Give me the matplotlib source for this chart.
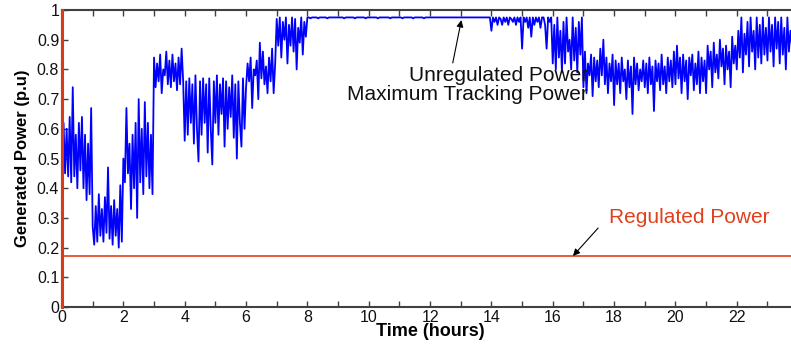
import numpy as np
import matplotlib
matplotlib.use("Agg")
import matplotlib.pyplot as plt

plt.rcParams['font.family'] = ['Liberation Sans', 'DejaVu Sans']

# unregulated power, 20 samples per hour (one row per hour)
unreg_rows = [
    [0.48, 0.62, 0.45, 0.60, 0.44, 0.64, 0.42, 0.74, 0.44, 0.58, 0.40, 0.62, 0.46, 0.64, 0.40, 0.58, 0.36, 0.55, 0.38, 0.67],
    [0.27, 0.21, 0.34, 0.22, 0.38, 0.24, 0.33, 0.22, 0.37, 0.25, 0.47, 0.23, 0.34, 0.21, 0.36, 0.24, 0.33, 0.20, 0.41, 0.22],
    [0.50, 0.42, 0.67, 0.45, 0.55, 0.33, 0.58, 0.40, 0.62, 0.30, 0.70, 0.42, 0.60, 0.38, 0.69, 0.44, 0.62, 0.40, 0.58, 0.38],
    [0.84, 0.74, 0.82, 0.76, 0.85, 0.72, 0.80, 0.78, 0.86, 0.75, 0.83, 0.74, 0.85, 0.76, 0.82, 0.73, 0.84, 0.75, 0.87, 0.76],
    [0.56, 0.76, 0.58, 0.77, 0.62, 0.75, 0.55, 0.78, 0.60, 0.49, 0.76, 0.58, 0.77, 0.62, 0.75, 0.52, 0.77, 0.60, 0.48, 0.76],
    [0.62, 0.78, 0.58, 0.75, 0.65, 0.77, 0.54, 0.76, 0.60, 0.74, 0.64, 0.78, 0.57, 0.75, 0.50, 0.76, 0.62, 0.54, 0.77, 0.60],
    [0.74, 0.82, 0.76, 0.84, 0.67, 0.80, 0.78, 0.83, 0.70, 0.89, 0.77, 0.86, 0.75, 0.81, 0.72, 0.84, 0.76, 0.87, 0.72, 0.82],
    [0.97, 0.88, 0.975, 0.84, 0.96, 0.90, 0.975, 0.82, 0.95, 0.88, 0.975, 0.86, 0.97, 0.80, 0.94, 0.89, 0.975, 0.85, 0.96, 0.91],
    [0.975, 0.975, 0.972, 0.975, 0.975, 0.975, 0.975, 0.972, 0.975, 0.975, 0.975, 0.975, 0.975, 0.972, 0.975, 0.975, 0.975, 0.975, 0.975, 0.975],
    [0.975, 0.975, 0.975, 0.975, 0.972, 0.975, 0.975, 0.975, 0.975, 0.975, 0.975, 0.972, 0.975, 0.975, 0.975, 0.975, 0.975, 0.975, 0.972, 0.975],
    [0.975, 0.975, 0.975, 0.975, 0.975, 0.975, 0.972, 0.975, 0.975, 0.975, 0.975, 0.975, 0.975, 0.975, 0.972, 0.975, 0.975, 0.975, 0.975, 0.975],
    [0.975, 0.975, 0.972, 0.975, 0.975, 0.975, 0.975, 0.975, 0.975, 0.972, 0.975, 0.975, 0.975, 0.975, 0.975, 0.975, 0.972, 0.975, 0.975, 0.975],
    [0.975, 0.975, 0.975, 0.975, 0.975, 0.975, 0.975, 0.975, 0.975, 0.975, 0.975, 0.975, 0.975, 0.975, 0.975, 0.975, 0.975, 0.975, 0.975, 0.975],
    [0.975, 0.975, 0.975, 0.975, 0.975, 0.975, 0.975, 0.975, 0.975, 0.975, 0.975, 0.975, 0.975, 0.975, 0.975, 0.975, 0.975, 0.975, 0.975, 0.975],
    [0.93, 0.975, 0.96, 0.975, 0.95, 0.975, 0.97, 0.95, 0.975, 0.96, 0.975, 0.95, 0.975, 0.97, 0.96, 0.975, 0.95, 0.975, 0.96, 0.975],
    [0.87, 0.975, 0.96, 0.975, 0.94, 0.975, 0.91, 0.975, 0.95, 0.975, 0.96, 0.975, 0.94, 0.975, 0.975, 0.95, 0.87, 0.975, 0.96, 0.975],
    [0.82, 0.95, 0.80, 0.975, 0.84, 0.93, 0.79, 0.96, 0.82, 0.975, 0.86, 0.90, 0.80, 0.975, 0.83, 0.94, 0.79, 0.96, 0.85, 0.975],
    [0.74, 0.86, 0.72, 0.82, 0.78, 0.85, 0.71, 0.84, 0.76, 0.83, 0.74, 0.87, 0.78, 0.90, 0.75, 0.84, 0.72, 0.82, 0.76, 0.85],
    [0.68, 0.83, 0.75, 0.82, 0.72, 0.84, 0.76, 0.80, 0.70, 0.83, 0.74, 0.81, 0.65, 0.84, 0.75, 0.82, 0.73, 0.80, 0.76, 0.83],
    [0.74, 0.82, 0.72, 0.84, 0.75, 0.81, 0.66, 0.83, 0.76, 0.82, 0.73, 0.85, 0.75, 0.81, 0.72, 0.84, 0.76, 0.83, 0.74, 0.86],
    [0.75, 0.88, 0.77, 0.84, 0.72, 0.85, 0.76, 0.83, 0.70, 0.84, 0.78, 0.85, 0.73, 0.82, 0.75, 0.86, 0.72, 0.84, 0.76, 0.83],
    [0.72, 0.88, 0.80, 0.86, 0.74, 0.89, 0.79, 0.85, 0.77, 0.90, 0.81, 0.87, 0.75, 0.88, 0.80, 0.86, 0.74, 0.91, 0.82, 0.88],
    [0.80, 0.93, 0.84, 0.975, 0.79, 0.92, 0.85, 0.96, 0.81, 0.975, 0.86, 0.93, 0.80, 0.975, 0.84, 0.95, 0.82, 0.975, 0.85, 0.94],
    [0.83, 0.975, 0.86, 0.95, 0.81, 0.975, 0.87, 0.96, 0.82, 0.975, 0.85, 0.94, 0.80, 0.975, 0.86, 0.93, 0.88],
]
samples_per_hour = 20

# regulated power: jumps from 0 to 1 at t=0, then settles at 0.172
reg_time = [0, 0, 0, 24]
reg_power = [0, 1, 0.172, 0.172]

x_ticks = [0, 2, 4, 6, 8, 10, 12, 14, 16, 18, 20, 22]
y_ticks = [0, 0.1, 0.2, 0.3, 0.4, 0.5, 0.6, 0.7, 0.8, 0.9, 1.0]
y_tick_labels = ['0', '0.1', '0.2', '0.3', '0.4', '0.5', '0.6', '0.7', '0.8', '0.9', '1']

unreg_power = np.concatenate([np.array(r) for r in unreg_rows])
unreg_time = np.arange(len(unreg_power)) / samples_per_hour

fig = plt.figure(figsize=(7.91, 3.45), dpi=100)
ax = fig.add_axes([0.0784, 0.110, 0.9306, 0.861])

ax.plot(unreg_time, unreg_power, color='#0000ff', lw=1.3)
ax.plot(reg_time, reg_power, color='#e0401c', lw=1.2, clip_on=False, zorder=3)
ax.plot([0, 0], [0, 1], color='#d83a1a', lw=2.2, clip_on=False, zorder=3)

ax.set_xlim(0, 24)
ax.set_ylim(0, 1)
ax.set_xticks(x_ticks)
ax.set_xticks(range(0, 24), minor=True)
ax.set_yticks(y_ticks)
ax.set_yticklabels(y_tick_labels)
ax.tick_params(which='both', direction='in', top=True, right=True, colors='#404040',
               labelcolor='#111111', labelsize=11.5, width=1, pad=2, length=4)
for s in ax.spines.values():
    s.set_color('#404040')
    s.set_linewidth(1.5)

ax.set_xlabel('Time (hours)', fontsize=13, fontweight='bold', labelpad=-1)
ax.set_ylabel('Generated Power (p.u)', fontsize=12, fontweight='bold', labelpad=5)

# annotations
ax.text(17.15, 0.748, 'Unregulated Power\nMaximum Tracking Power', ha='right', va='center',
        multialignment='right', fontsize=15, color='#111111', linespacing=1.0)
ax.annotate('', xy=(13.02, 0.966), xytext=(12.74, 0.822),
            arrowprops=dict(arrowstyle='-|>', color='black', lw=0.8, mutation_scale=10,
                            shrinkA=0, shrinkB=0))
ax.text(20.45, 0.30, 'Regulated Power', ha='center', va='center', fontsize=15,
        color='#e0401c')
ax.annotate('', xy=(16.66, 0.172), xytext=(17.48, 0.266),
            arrowprops=dict(arrowstyle='-|>', color='black', lw=0.8, mutation_scale=10,
                            shrinkA=0, shrinkB=0))

fig.savefig('out.png', dpi=100)
